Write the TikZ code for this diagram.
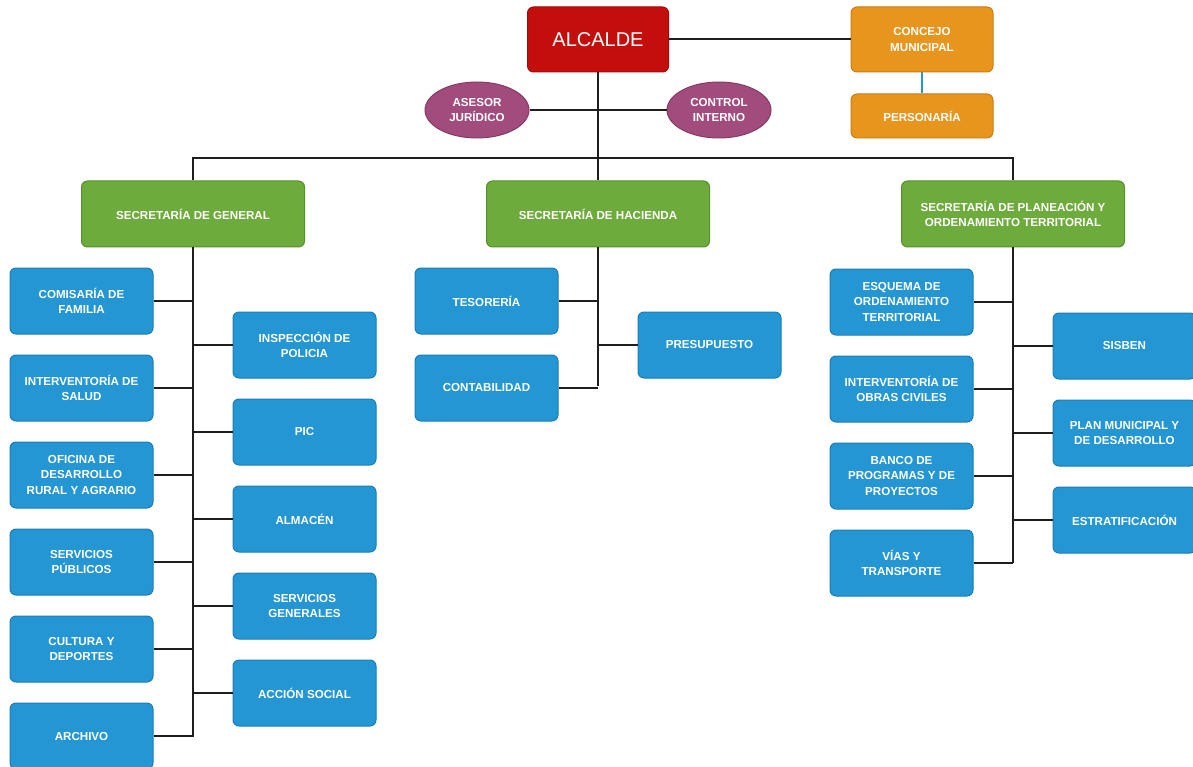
\documentclass[tikz,border=0pt]{standalone}
\usepackage{fontspec}
\setmainfont{Liberation Sans}
\usetikzlibrary{shapes.geometric}
\definecolor{cblue}{HTML}{2396D3}
\definecolor{cblueb}{HTML}{1B7DB5}
\definecolor{cgreen}{HTML}{6EAB3D}
\definecolor{cgreenb}{HTML}{578F2C}
\definecolor{cred}{HTML}{C40E0B}
\definecolor{credb}{HTML}{A00A08}
\definecolor{corange}{HTML}{E8951E}
\definecolor{coranb}{HTML}{C97D12}
\definecolor{cpurple}{HTML}{A24C7D}
\definecolor{cpurpb}{HTML}{843A64}
\definecolor{cline}{HTML}{1E1E1E}
\tikzset{
  box/.style={rectangle, rounded corners=6pt, line width=1pt, text=white, align=center, inner sep=0pt,
    font=\fontsize{11.6}{15.5}\selectfont\bfseries},
  bluebox/.style={box, fill=cblue, draw=cblueb, minimum width=143pt, minimum height=66pt},
  greenbox/.style={box, fill=cgreen, draw=cgreenb, minimum width=223pt, minimum height=66pt},
  orangebox/.style={box, fill=corange, draw=coranb, minimum width=142pt},
  oval/.style={ellipse, fill=cpurple, draw=cpurpb, line width=1pt, text=white, align=center, inner sep=0pt,
    minimum width=104pt, minimum height=56pt, font=\fontsize{11.6}{15}\selectfont\bfseries},
  conn/.style={draw=cline, line width=2pt},
}
\begin{document}
\begin{tikzpicture}[x=1pt,y=-1pt]
\useasboundingbox (0,0) rectangle (1193,767);
% top
\node[box, fill=cred, draw=credb, minimum width=141pt, minimum height=65pt, font=\fontsize{20}{24}\selectfont] (alc) at (598,39.5) {ALCALDE};
\node[orangebox, minimum height=65pt] (con) at (922,39.5) {CONCEJO\\MUNICIPAL};
\node[orangebox, minimum height=44pt] (per) at (922,116) {PERSONARÍA};
\node[oval] (ase) at (477,110) {ASESOR\\JURÍDICO};
\node[oval] (ctl) at (719,110) {CONTROL\\INTERNO};
\coordinate (bus) at (598,158);
% secretarias
\node[greenbox] (sg) at (193,214) {SECRETARÍA DE GENERAL};
\node[greenbox] (sh) at (598,214) {SECRETARÍA DE HACIENDA};
\node[greenbox] (sp) at (1013,214) {SECRETARÍA DE PLANEACIÓN Y\\ORDENAMIENTO TERRITORIAL};
% general, left
\node[bluebox] (g1) at (81.5,301) {COMISARÍA DE\\FAMILIA};
\node[bluebox] (g2) at (81.5,388) {INTERVENTORÍA DE\\SALUD};
\node[bluebox] (g3) at (81.5,475) {OFICINA DE\\DESARROLLO\\RURAL Y AGRARIO};
\node[bluebox] (g4) at (81.5,562) {SERVICIOS\\PÚBLICOS};
\node[bluebox] (g5) at (81.5,649) {CULTURA Y\\DEPORTES};
\node[bluebox] (g6) at (81.5,736) {ARCHIVO};
% general, right
\node[bluebox] (g7) at (304.5,345) {INSPECCIÓN DE\\POLICIA};
\node[bluebox] (g8) at (304.5,432) {PIC};
\node[bluebox] (g9) at (304.5,519) {ALMACÉN};
\node[bluebox] (g10) at (304.5,606) {SERVICIOS\\GENERALES};
\node[bluebox] (g11) at (304.5,693) {ACCIÓN SOCIAL};
% hacienda
\node[bluebox] (h1) at (486.5,301) {TESORERÍA};
\node[bluebox] (h2) at (486.5,388) {CONTABILIDAD};
\node[bluebox] (h3) at (709.5,345) {PRESUPUESTO};
% planeacion
\node[bluebox] (p1) at (901.5,302) {ESQUEMA DE\\ORDENAMIENTO\\TERRITORIAL};
\node[bluebox] (p2) at (901.5,389) {INTERVENTORÍA DE\\OBRAS CIVILES};
\node[bluebox] (p3) at (901.5,476) {BANCO DE\\PROGRAMAS Y DE\\PROYECTOS};
\node[bluebox] (p4) at (901.5,563) {VÍAS Y\\TRANSPORTE};
\node[bluebox] (p5) at (1124.5,346) {SISBEN};
\node[bluebox] (p6) at (1124.5,433) {PLAN MUNICIPAL Y\\DE DESARROLLO};
\node[bluebox] (p7) at (1124.5,520) {ESTRATIFICACIÓN};
% trunk ends
\coordinate (tg) at (193,737);
\coordinate (th) at (598,386);
\coordinate (tp) at (1013,563);
% connectors top
\draw[conn] (alc.east) -- (con.west);
\draw[draw=cblue, line width=1.5pt] (con.south) -- (per.north);
\draw[conn] (ase.east) -- (ctl.west);
\draw[conn] (alc.south) -- (bus);
\draw[conn] (sg.north) |- (bus) -| (sp.north);
\draw[conn] (sh.north) -- (sh.north |- bus);
% trunks
\draw[conn] (sg.south) -- (tg);
\draw[conn] (sh.south) -- (th);
\draw[conn] (sp.south) -- (tp);
% branches
\foreach \n in {g1,g2,g3,g4,g5,g6} \draw[conn] (\n.east) -- (\n.east -| tg);
\foreach \n in {g7,g8,g9,g10,g11} \draw[conn] (\n.west) -- (\n.west -| tg);
\foreach \n in {h1,h2} \draw[conn] (\n.east) -- (\n.east -| th);
\draw[conn] (h3.west) -- (h3.west -| th);
\foreach \n in {p1,p2,p3,p4} \draw[conn] (\n.east) -- (\n.east -| tp);
\foreach \n in {p5,p6,p7} \draw[conn] (\n.west) -- (\n.west -| tp);
\end{tikzpicture}
\end{document}
